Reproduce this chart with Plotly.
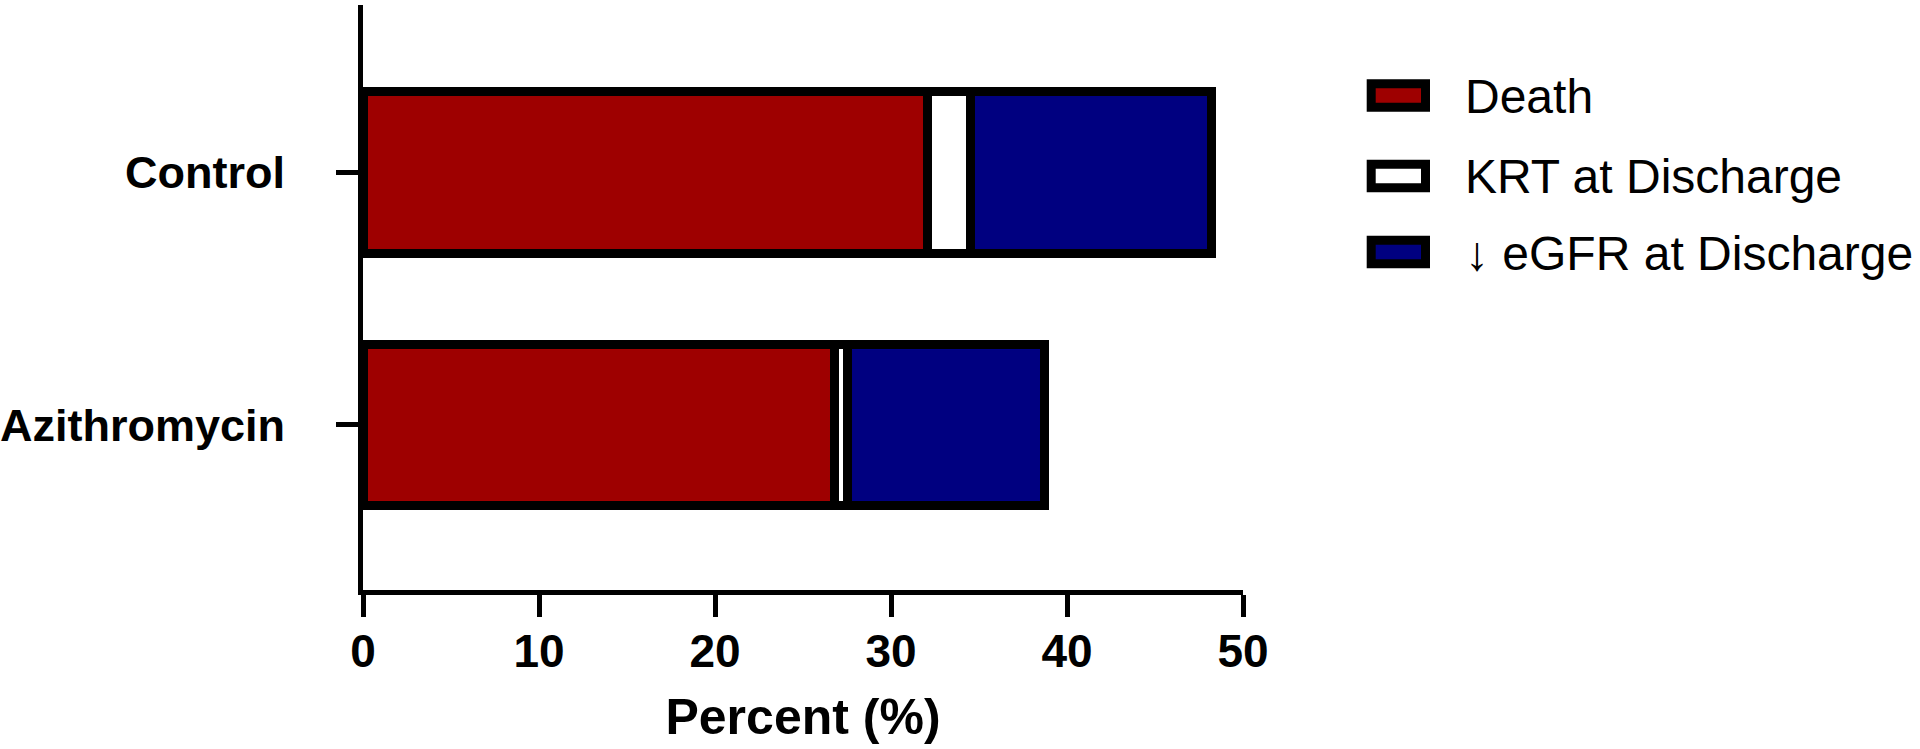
import plotly.graph_objects as go

# ---- data ----
categories = ["Azithromycin", "Control"]
series_names = ["Death", "KRT at Discharge", "\u2193 eGFR at Discharge"]
death = [26.8, 32.1]
krt = [0.7, 2.4]
egfr = [11.2, 13.7]
series_values = [death, krt, egfr]
colors = ["#9E0000", "#FFFFFF", "#000080"]
x_ticks = [0, 10, 20, 30, 40, 50]

FONT = "Liberation Sans, Arial, Helvetica, sans-serif"

fig = go.Figure()
for name, vals, col in zip(series_names, series_values, colors):
    fig.add_trace(go.Bar(
        y=categories, x=vals, name=name, orientation="h",
        marker=dict(color=col, line=dict(color="black", width=9)),
        showlegend=False, hoverinfo="x+name",
    ))

# plot-area geometry in pixels (for manual legend)
L, R, T, B = 363, 1243, 5, 590
def px_x(p):
    return (p - L) / (R - L)
def px_y(p):
    return (B - p) / (B - T)

legend_centers = [95.5, 176.0, 252.0]
shapes = []
annotations = []
for name, col, cy in zip(series_names, colors, legend_centers):
    shapes.append(dict(
        type="rect", xref="paper", yref="paper",
        x0=px_x(1371.2), x1=px_x(1425.5),
        y0=px_y(cy + 11.7), y1=px_y(cy - 11.7),
        fillcolor=col, line=dict(color="black", width=9), layer="above",
    ))
    annotations.append(dict(
        xref="paper", yref="paper", x=px_x(1463), y=px_y(cy + 1),
        xanchor="left", yanchor="middle", text=name, showarrow=False,
        font=dict(family=FONT, size=48, color="black"),
    ))

fig.update_layout(
    width=1920, height=749,
    margin=dict(l=L, r=1920 - R, t=T, b=749 - B, pad=0, autoexpand=False),
    paper_bgcolor="white", plot_bgcolor="white",
    barmode="stack", bargap=0.36,
    shapes=shapes, annotations=annotations,
    font=dict(family=FONT, color="black"),
)
fig.update_xaxes(
    range=[0, 50], tickvals=x_ticks, ticktext=[str(t) for t in x_ticks],
    showgrid=False, zeroline=False, automargin=False,
    showline=True, linecolor="black", linewidth=5,
    ticks="outside", ticklen=22, tickwidth=5, tickcolor="black",
    tickfont=dict(family=FONT, size=46, weight="bold", color="black"),
    ticklabelstandoff=-5,
    title=dict(text="Percent (%)", font=dict(family=FONT, size=50, weight="bold", color="black"), standoff=24),
)
fig.update_yaxes(
    range=[-0.653, 1.662], categoryorder="array", categoryarray=categories,
    showgrid=False, zeroline=False, automargin=False,
    showline=True, linecolor="black", linewidth=5,
    ticks="outside", ticklen=22, tickwidth=5, tickcolor="black",
    tickfont=dict(family=FONT, size=45, weight="bold", color="black"),
    ticklabelstandoff=42,
)

fig.write_html(
    "out.html",
    config={"displayModeBar": False},
    post_script="document.body.style.margin='0';document.body.style.overflow='hidden';",
)
